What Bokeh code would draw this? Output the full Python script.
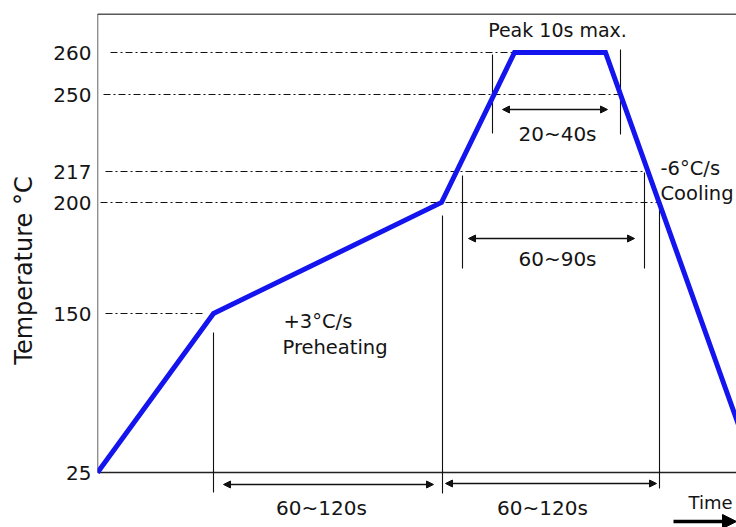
import numpy as np
from bokeh.plotting import figure
from bokeh.models import Range1d, FixedTicker, Arrow, NormalHead, ColumnDataSource
from bokeh.core.properties import value
from bokeh.embed import file_html
from bokeh.resources import INLINE

# ---- data -----------------------------------------------------------
# temperature axis is drawn with scale breaks: each labelled level has its own position
temp_ticks = [25, 150, 200, 217, 250, 260]
tick_pos = [0, 159, 270, 301, 378, 420]
tick_labels = ["25", "150", "200", "217", "250", "260"]

# reflow profile (schematic time units)
profile_time = [0, 116, 344, 417, 508, 658]
profile_temp = [25, 150, 200, 260, 260, 25]

# dash-dot reference levels
ref_temp = [260, 250, 217, 200, 150]
ref_t0 = [13, 6, 8, 3, 8]
ref_t1 = [416, 523, 548, 561, 106]

# vertical marker lines (time, from, to in axis position units)
mark_t = [116, 345, 365, 547, 562, 395, 523]
mark_y0 = [-20, -21, 204, 204, -16, 339, 338]
mark_y1 = [140, 257, 297, 300, 272, 418, 423]

# interval arrows
span_t0 = [405, 371, 126, 348]
span_t1 = [510, 537, 336, 559]
span_y = [363, 234, -12, -11]
span_txt = ["20~40s", "60~90s", "60~120s", "60~120s"]
span_txt_t = [460, 460, 224, 445]
span_txt_y = [339, 214, -35, -35]

FONT = "DejaVu Sans"
TXT = "#141414"


def ypos(t):
    return np.interp(t, temp_ticks, tick_pos)


p = figure(width=736, height=527, output_backend="svg", toolbar_location=None,
           x_range=Range1d(0, 639), y_range=Range1d(-55, 459),
           x_axis_location=None, y_axis_location="left",
           min_border_left=97, min_border_right=0, min_border_top=13, min_border_bottom=0)
p.outline_line_color = None
p.grid.visible = False
p.background_fill_color = "white"

ax = p.yaxis[0]
ax.ticker = FixedTicker(ticks=tick_pos)
ax.major_label_overrides = {pos: lab for pos, lab in zip(tick_pos, tick_labels)}
ax.axis_line_color = None
ax.major_tick_line_color = None
ax.minor_tick_line_color = None
ax.major_tick_out = 0
ax.major_tick_in = 0
ax.major_label_standoff = 6
ax.major_label_text_font = FONT
ax.major_label_text_font_size = "20px"
ax.major_label_text_color = TXT
ax.axis_label = "Temperature °C"
ax.axis_label_text_font = FONT
ax.axis_label_text_font_size = "24px"
ax.axis_label_text_font_style = "normal"
ax.axis_label_text_color = TXT
ax.axis_label_standoff = 12

# frame lines (left, bottom, top)
p.segment(x0=[0, 0, 0], y0=[0, 0, 458.5], x1=[0, 639, 639], y1=[458.5, 0, 458.5],
          line_color="#222222", line_width=1.4)

# dash-dot reference levels
p.segment(x0=ref_t0, y0=ypos(ref_temp), x1=ref_t1, y1=ypos(ref_temp),
          line_color="#111111", line_width=1.2, line_dash="7 3 2 3")

# vertical markers
p.segment(x0=mark_t, y0=mark_y0, x1=mark_t, y1=mark_y1,
          line_color="#111111", line_width=1.1)

# interval arrows
for t0, t1, y in zip(span_t0, span_t1, span_y):
    p.add_layout(Arrow(x_start=t0, y_start=y, x_end=t1, y_end=y,
                       line_color="#111111", line_width=1.3,
                       start=NormalHead(size=7, fill_color="#111111", line_color="#111111"),
                       end=NormalHead(size=7, fill_color="#111111", line_color="#111111")))

# profile
p.line(profile_time, ypos(profile_temp), line_color="#1414EE", line_width=5, line_join="miter")

# texts
src = ColumnDataSource(dict(x=span_txt_t, y=span_txt_y, t=span_txt))
p.text(x="x", y="y", text="t", source=src, text_align="center", text_baseline="middle",
       text_font=value(FONT), text_font_size="20px", text_color=TXT)

p.text(x=[460], y=[443], text=["Peak 10s max."], text_align="center", text_baseline="middle",
       text_font=value(FONT), text_font_size="19px", text_color=TXT)
p.text(x=[563, 563], y=[304, 279], text=["-6°C/s", "Cooling"], text_align="left",
       text_baseline="middle", text_font=value(FONT), text_font_size="19.5px", text_color=TXT)
p.text(x=[186, 185], y=[151, 125], text=["+3°C/s", "Preheating"], text_align="left",
       text_baseline="middle", text_font=value(FONT), text_font_size="19.5px", text_color=TXT)
p.text(x=[591], y=[-30], text=["Time"], text_align="left", text_baseline="middle",
       text_font=value(FONT), text_font_size="18px", text_color=TXT)

# time arrow
p.add_layout(Arrow(x_start=576, y_start=-49, x_end=639, y_end=-49,
                   line_color="black", line_width=3.5,
                   end=NormalHead(size=14, fill_color="black", line_color="black")))

open("out.html", "w").write(file_html(p, INLINE))
